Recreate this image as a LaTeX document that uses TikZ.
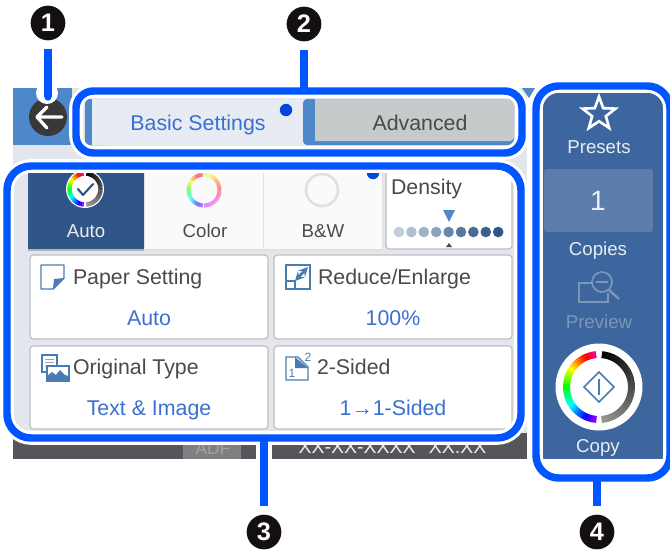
\documentclass[tikz,border=0pt]{standalone}
\usepackage{fontspec}
\setmainfont{Liberation Sans}
\usetikzlibrary{shapes.geometric}
\definecolor{callout}{HTML}{0055FF}
\definecolor{numblack}{HTML}{14100F}
\definecolor{strip}{HTML}{4E88CB}
\definecolor{screenbg}{HTML}{E3E7ED}
\definecolor{tabon}{HTML}{E7EBF3}
\definecolor{taboff}{HTML}{C6CACB}
\definecolor{band}{HTML}{55565A}
\definecolor{panel}{HTML}{3D659E}
\definecolor{copybox}{HTML}{5C7DAC}
\definecolor{dimtext}{HTML}{7C96BA}
\definecolor{tiledark}{HTML}{2F5686}
\definecolor{txtgray}{HTML}{4A4A4A}
\definecolor{txtblue}{HTML}{3A70D2}
\definecolor{iconblue}{HTML}{4A7CB3}
\newcommand{\fs}[1]{\fontsize{#1}{#1}\selectfont}
\newcommand{\rainbowarc}[5]{% cx cy r width opacity
  \foreach \a in {95,100,...,260}{
    \pgfmathsetmacro\hh{mod(330+(\a-95)*1.82,360)}
    \definecolor{rb}{Hsb}{\hh,1,1}
    \draw[rb,line width=#4,opacity=#5]
      ({#1+#3*cos(\a)},{#2-#3*sin(\a)}) -- ({#1+#3*cos(\a+5.5)},{#2-#3*sin(\a+5.5)});
  }}
\newcommand{\grayarc}[5]{% cx cy r width endgray
  \foreach \a in {85,80,...,-80}{
    \pgfmathsetmacro\mixv{100-#5*(85-\a)/170}
    \draw[color=black!\mixv!white,line width=#4]
      ({#1+#3*cos(\a)},{#2-#3*sin(\a)}) -- ({#1+#3*cos(\a-5.5)},{#2-#3*sin(\a-5.5)});
  }}
\tikzset{
  ring/.style={rectangle,draw=callout,line width=5.6pt,inner sep=0pt,outer sep=0pt,
    preaction={draw=white,line width=10.2pt}},
  leader/.style={callout,line width=5.4pt},
  numdot/.style={circle,fill=numblack,text=white,minimum size=26pt,inner sep=0pt,outer sep=0pt,
    font=\fs{19}\bfseries},
  tile/.style={fill=white,draw=black!25,line width=0.9pt,rounded corners=2.5pt},
  lab/.style={anchor=base,inner sep=0pt,outer sep=0pt,text=txtgray,font=\fs{16}},
  labl/.style={lab,anchor=base west},
  val/.style={lab,text=txtblue},
  sm/.style={lab,font=\fs{14}},
  side/.style={lab,font=\fs{14},text=white!88!panel},
  icon/.style={iconblue,line width=1.1pt},
}
\begin{document}
\begin{tikzpicture}[x=0.75pt,y=-0.75pt]
\useasboundingbox (0,0) rectangle (670,554);
\fill[white] (0,0) rectangle (670,554);
% screen
\fill[screenbg] (13,88) rectangle (527,459);
\fill[strip] (13,88) rectangle (72,145);
\fill[strip] (522,88) -- (535,88) -- (529,98) -- cycle;
\fill[band] (13,433) rectangle (527,459);
\fill[band!75!white] (183,440) rectangle (241,459);
\node[inner sep=0pt,text=band!55!white,font=\fs{13},anchor=base] (adf) at (213,454) {ADF};
\node[inner sep=0pt,text=white!90!band,font=\fs{14.6},anchor=base] (clock) at (392.5,453) {XX-XX-XXXX\hspace{10pt}XX.XX};
\fill[panel] (543,93) rectangle (665,459);
% back button
\fill[black!78!white] (48,117) circle (19);
\draw[white,line width=2.4pt,line cap=round,line join=round] (37,117) -- (62,117) (47,107) -- (37,117) -- (47,128);
% tabs
\fill[strip,rounded corners=3pt] (85,99) rectangle (110,145);
\fill[tabon] (92,99) rectangle (306,145);
\fill[strip,rounded corners=3pt] (303,99) rectangle (514,145);
\fill[taboff,rounded corners=3pt] (315,99) -- (514,99) -- (514,141) -- (315,141) -- cycle;
\fill[taboff] (315,99) rectangle (330,141);
\fill[callout!85!black] (286,110) circle (6.2);
\node[lab,text=txtblue] (tabbasic) at (198,130) {Basic Settings};
\node[lab] (tabadv) at (420,130) {Advanced};
% colour mode row
\fill[black!12] (28,172) rectangle (383,251);
\fill[black!30] (28,249) rectangle (144,251);
\fill[tiledark] (28,172) rectangle (144,249);
\fill[white!98!black] (145,172) rectangle (263,249);
\fill[white!98!black] (264,172) rectangle (382,249);
\draw[tile] (386,168) rectangle (512,249);
\fill[white] (85,189) circle (19);
\rainbowarc{85}{189}{15.5}{3.3pt}{1}
\grayarc{85}{189}{15.5}{3.3pt}{60}
\draw[tiledark,line width=1.6pt,line cap=round,line join=round] (78,189) -- (83,195) -- (93,184);
\rainbowarc{204}{190}{15.5}{3pt}{.5}
\foreach \a in {-90,-85,...,90}{
  \pgfmathsetmacro\hh{mod(270+(\a+90)*0.95,360)}
  \definecolor{rb}{Hsb}{\hh,.8,1}
  \draw[rb,line width=3pt,opacity=.5] ({204+15.5*cos(\a)},{190-15.5*sin(\a)}) -- ({204+15.5*cos(\a+5.5)},{190-15.5*sin(\a+5.5)});
}
\draw[black!12,line width=2pt] (322,190) circle (16);
\fill[callout!85!black] (373,173) circle (6.2);
\node[sm,text=white!90!tiledark] (tauto) at (86,237) {Auto};
\node[sm] (tcolor) at (205,237) {Color};
\node[sm] (tbw) at (323,237) {B\&W};
% density
\node[labl] (tdens) at (391,194) {Density};
\fill[strip] (443,210) -- (455,210) -- (449,222) -- cycle;
\foreach \i/\m in {0/30,1/38,2/46,3/55,4/72,5/80,6/88,7/94,8/100}{
  \fill[tiledark!\m!white] ({399+\i*12.4},232) circle (5.3);
}
\fill[txtgray] (446,247) -- (452,247) -- (449,243) -- cycle;
% option tiles
\draw[tile] (30,255) rectangle (268,339);
\draw[tile] (274,255) rectangle (512,339);
\draw[tile] (30,346) rectangle (268,429);
\draw[tile] (274,346) rectangle (512,429);
\node[labl] (tpaper) at (73,284) {Paper Setting};
\node[val] (vpaper) at (149,325) {Auto};
\node[labl] (treduce) at (318,284) {Reduce/Enlarge};
\node[val] (vreduce) at (393,325) {100\%};
\node[labl] (torig) at (73,374) {Original Type};
\node[val] (vorig) at (149,415) {Text \& Image};
\node[labl] (tsided) at (317,374) {2-Sided};
\node[val] (vsided) at (393,415) {1→1-Sided};
% paper icon
\draw[icon,line join=round] (41,265) -- (64,265) -- (64,278) -- (53,289) -- (41,289) -- cycle;
\fill[iconblue] (64,278) -- (54,279) -- (53,289) -- cycle;
% reduce icon
\draw[icon] (286,265) rectangle (310,289);
\draw[iconblue,line width=2pt,<->,>=stealth] (295,281) -- (308,267);
\draw[icon,fill=white] (286,281) rectangle (295,289);
% original type icon
\draw[icon,line width=0.8pt,fill=white] (42,355) rectangle (57,372);
\draw[black!35,line width=0.7pt] (45,359) -- (54,359) (45,362.5) -- (54,362.5) (45,366) -- (50,366);
\draw[icon,line width=1pt,fill=white] (47,366) rectangle (69,381);
\fill[iconblue] (47,381) -- (47,376) -- (52,372) -- (56,375) -- (60,370) -- (65,375) -- (69,376) -- (69,381) -- cycle;
% 2-sided icon
\draw[icon,line width=0.9pt] (286,357) -- (298,357) -- (308,367) -- (308,380) -- (286,380) -- cycle;
\fill[iconblue] (295,357) -- (308,368) -- (295,368) -- cycle;
\node[inner sep=0pt,text=iconblue,font=\fs{9}] (oneicon) at (292,373) {1};
\node[inner sep=0pt,text=iconblue,font=\fs{9}] (twoicon) at (308,357) {2};
% right panel
\node[star,star points=5,star point ratio=2.4,draw=white,line width=2pt,minimum size=26pt,inner sep=0pt] (star) at (599,114) {};
\node[side] (tpresets) at (599,153) {Presets};
\fill[copybox,rounded corners=2pt] (544,169) rectangle (653,232);
\node[lab,text=white!90!panel,font=\fs{21}] (tone) at (598,210) {1};
\node[side] (tcopies) at (598,255) {Copies};
\draw[dimtext,line width=1.2pt] (593,283) -- (579,283) -- (579,302) -- (608,302) -- (608,293);
\draw[dimtext,line width=1.3pt,fill=panel] (602,282) circle (10);
\draw[dimtext,line width=1.2pt] (596,282) -- (608,282);
\draw[dimtext,line width=1.8pt] (609,290) -- (619,299);
\node[side,text=dimtext] (tpreview) at (599,328) {Preview};
\fill[white] (599,387) circle (43.5);
\rainbowarc{599}{387}{32.5}{5.2pt}{1}
\grayarc{599}{387}{32.5}{5.2pt}{60}
\draw[iconblue,line width=1.2pt] (599,372) -- (614,387) -- (599,402) -- (584,387) -- cycle;
\draw[iconblue,line width=1.2pt] (599,379) -- (599,395);
\node[side] (tcopy) at (598,452) {Copy};
% white gap for leader 3 through the dark band
\fill[white] (256,433) rectangle (272,459);
\fill[white] (47,93) circle (11);
% callout frames
\node[ring,rounded corners=13pt,minimum width=334.5pt,minimum height=46.5pt] (r2) at (299,122) {};
\node[ring,rounded corners=18pt,minimum width=385.5pt,minimum height=204pt] (r3) at (264,302) {};
\node[ring,rounded corners=17pt,minimum width=100.5pt,minimum height=294pt] (r4) at (603,282) {};
% numbers
\node[numdot] (n1) at (48,23) {1};
\node[numdot] (n2) at (304,24) {2};
\node[numdot] (n3) at (264,532) {3};
\node[numdot] (n4) at (597,532) {4};
\coordinate (e1) at (48,97);
\fill[callout] (e1) circle (3.6);
\draw[leader,shorten <=6.5pt] (n1) -- (e1);
\draw[leader,shorten <=6.5pt] (n2) -- (n2 |- r2.north);
\draw[leader,shorten <=6.5pt] (n3) -- (n3 |- r3.south);
\draw[leader,shorten <=6.5pt] (n4) -- (n4 |- r4.south);
\end{tikzpicture}
\end{document}
